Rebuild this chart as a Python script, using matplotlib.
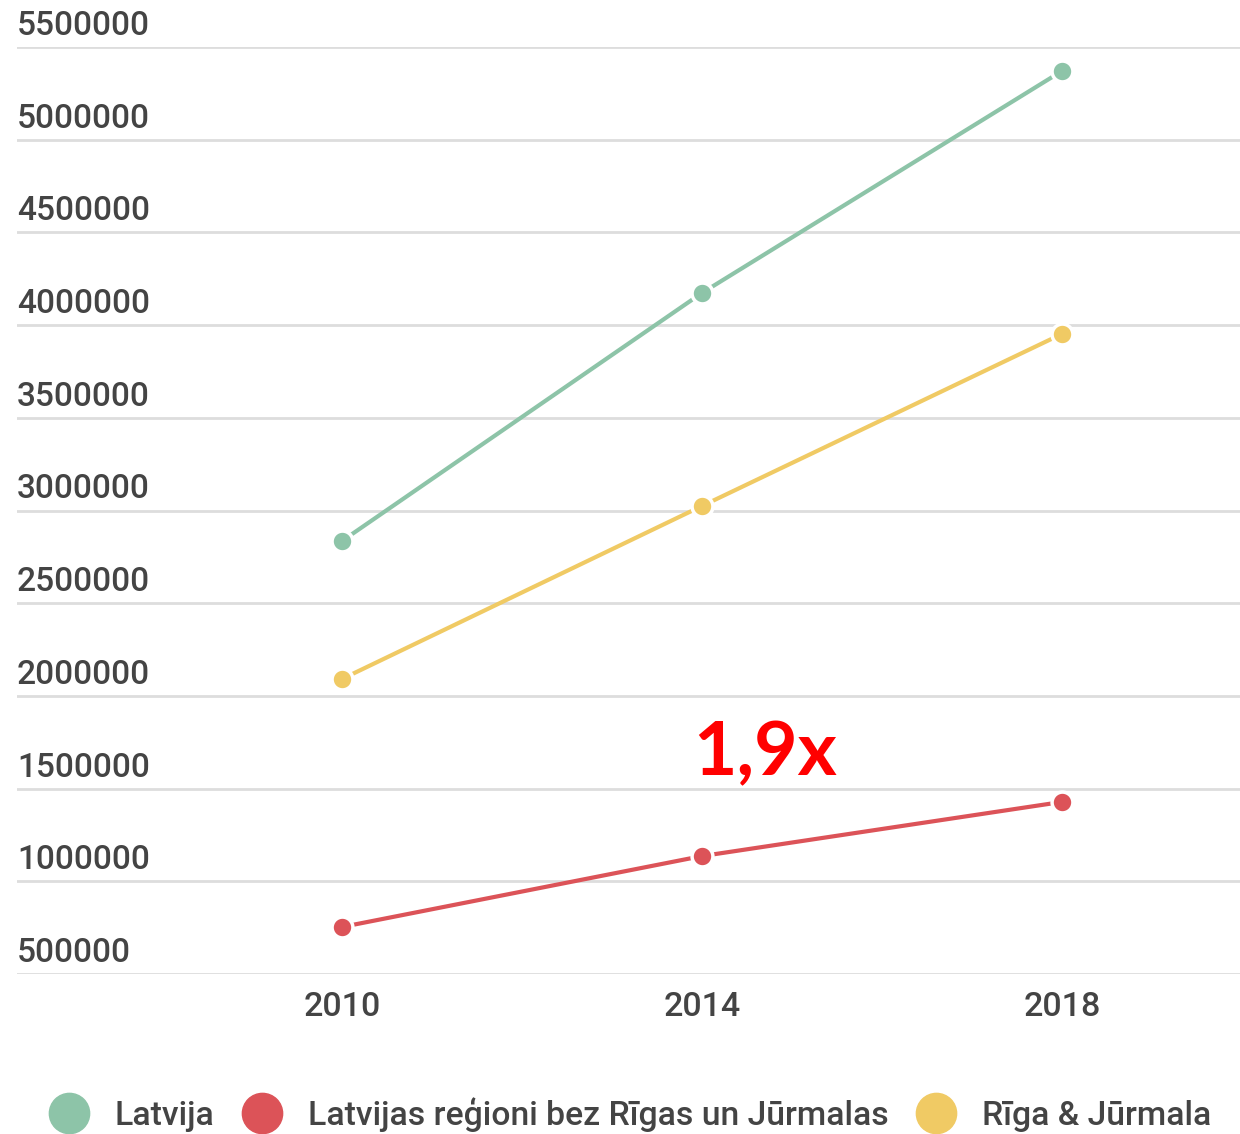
import matplotlib
matplotlib.use("Agg")
from matplotlib import pyplot as plt
from matplotlib.lines import Line2D
import matplotlib.transforms as mtransforms

plt.rcParams['font.family'] = ['Roboto', 'DejaVu Sans']

years = [2010, 2014, 2018]
latvija = [2835000, 4173000, 5370000]
regioni = [753500, 1136000, 1428000]
riga = [2091000, 3024000, 3952000]
names = ['Latvija', 'Latvijas reģioni bez Rīgas un Jūrmalas', 'Rīga & Jūrmala']
colors = ['#8dc4a8', '#dc5358', '#f0ca64']
yticks = [500000, 1000000, 1500000, 2000000, 2500000, 3000000,
          3500000, 4000000, 4500000, 5000000, 5500000]

fig = plt.figure(figsize=(12.4, 11.34), dpi=100)
ax = fig.add_axes([17/1240, 1-974/1134, 1-17/1240, (974-47)/1134])

for vals, c in zip([latvija, regioni, riga], colors):
    ax.plot(years, vals, color=c, lw=3, marker='o', ms=15,
            mfc=c, mec='white', mew=2.5, zorder=3, solid_capstyle='butt')

ax.set_ylim(500000, 5500000)
ax.set_xlim(2006.39, 2019.98)
ax.set_yticks(yticks)
ax.set_xticks(years)
ax.set_yticklabels([])
ax.set_xticklabels([str(y) for y in years], fontsize=24.5, color='#444444',
                   fontweight='medium')
ax.tick_params(axis='both', length=0)
ax.tick_params(axis='x', pad=12)
ax.grid(axis='y', color='#dddddd', lw=2)
for s in ax.spines.values():
    s.set_visible(False)

trans = mtransforms.blended_transform_factory(ax.transAxes, ax.transData)
trans = trans + mtransforms.ScaledTranslation(0, 5/100, fig.dpi_scale_trans)
for v in yticks:
    ax.text(0, v, str(v), transform=trans, ha='left', va='bottom',
            fontsize=24, color='#444444', fontweight='medium')

ax.text(2014.7, 1500000, '1,9x', color='#ff0000', fontsize=54,
        fontweight='bold', family=['Lato', 'DejaVu Sans'], ha='center',
        va='bottom')

handles = [Line2D([], [], ls='none', marker='o', ms=29, mfc=c, mec=c)
           for c in colors]
fig.legend(handles, names, loc='lower center', bbox_to_anchor=(0.508, -0.025),
           ncol=3, frameon=False, labelcolor='#444444',
           handletextpad=0.77, columnspacing=0.8, handlelength=1.2,
           prop={'size': 24.3, 'weight': 'medium'})

fig.savefig('out.png', dpi=100)
